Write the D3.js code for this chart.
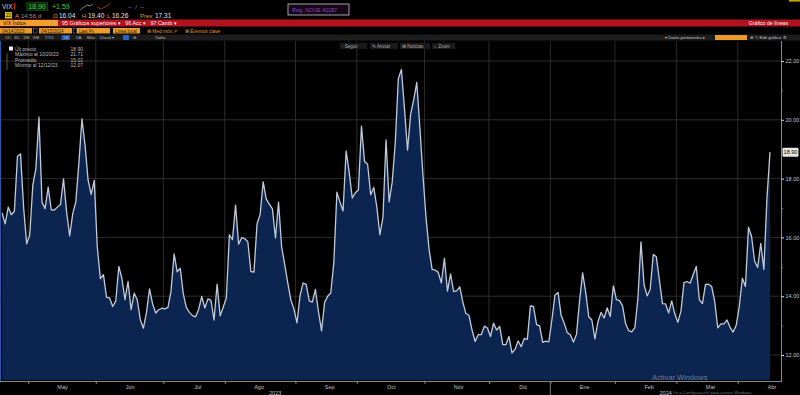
<!DOCTYPE html>
<html>
<head>
<meta charset="utf-8">
<script src="https://cdn.jsdelivr.net/npm/d3@7"></script>
<style>
  body { margin: 0; background: #000; }
  svg { display: block; font-family: "Liberation Sans", Arial, sans-serif; }
  svg text { white-space: pre; }
</style>
</head>
<body>
<div id="chart"></div>
<script>
// VIX daily closes, one array per month (trading days)
var apr23 = [16.83, 16.46, 17.03, 16.77, 16.89, 18.76, 18.84, 17.03, 15.78];
var may23 = [16.08, 17.78, 18.34, 20.09, 17.19, 16.98, 17.71, 16.94, 16.93, 17.03, 17.12, 17.99, 16.87, 16.05, 16.81, 17.21, 18.53, 20.03, 19.14, 17.95, 17.46, 17.94];
var jun23 = [15.65, 14.60, 14.73, 13.96, 13.94, 13.65, 13.83, 15.01, 14.61, 13.88, 14.50, 13.54, 14.10, 13.88, 13.20, 12.91, 13.44, 14.25, 13.74, 13.43, 13.54, 13.59];
var jul23 = [13.57, 13.62, 14.18, 15.44, 14.83, 14.95, 14.07, 13.61, 13.45, 13.34, 13.30, 13.56, 13.99, 13.60, 13.91, 13.86, 13.19, 14.41, 13.33, 13.63];
var aug23 = [13.93, 16.09, 15.92, 17.10, 15.77, 15.99, 15.96, 15.85, 14.84, 14.82, 16.46, 16.78, 17.89, 17.30, 17.13, 16.97, 15.98, 17.20, 15.68, 15.08, 14.45, 13.88, 13.57];
var sep23 = [13.09, 14.02, 14.45, 14.40, 13.84, 13.80, 14.23, 13.48, 12.82, 13.79, 14.00, 14.11, 15.14, 17.54, 17.20, 16.90, 18.94, 18.22, 17.34, 17.52];
var oct23 = [17.61, 19.78, 18.58, 18.49, 17.45, 17.70, 17.03, 16.09, 16.69, 19.32, 17.21, 17.88, 19.22, 21.40, 21.71, 20.37, 18.97, 20.19, 20.68, 21.27, 19.75, 18.14];
var nov23 = [16.70, 15.60, 14.91, 14.89, 14.81, 14.45, 15.29, 14.17, 14.76, 14.16, 14.18, 14.32, 13.80, 13.41, 13.35, 12.85, 12.46, 12.69, 12.69, 12.98, 12.92];
var dec23 = [12.63, 13.08, 12.85, 12.97, 12.35, 12.35, 12.63, 12.07, 12.19, 12.48, 12.28, 12.56, 12.53, 13.67, 13.65, 13.03, 12.99, 12.43, 12.47, 12.45];
var jan24 = [13.20, 14.04, 14.13, 13.35, 13.08, 12.76, 12.69, 12.44, 12.70, 13.84, 14.79, 14.13, 13.30, 13.19, 12.55, 13.14, 13.45, 13.26, 13.60, 13.31, 14.35];
var feb24 = [13.88, 13.85, 13.67, 13.06, 12.83, 12.79, 12.93, 13.93, 15.85, 14.38, 14.01, 14.24, 15.42, 15.34, 14.54, 13.75, 13.74, 13.43, 13.84, 13.40];
var mar24 = [13.11, 13.49, 14.46, 14.50, 14.44, 14.74, 15.01, 13.88, 13.75, 14.40, 14.41, 14.33, 13.82, 12.92, 13.06, 13.06, 13.19, 12.94, 12.78, 13.01];
var apr24 = [13.65, 14.61, 14.33, 16.35, 16.03, 15.19, 14.98, 15.80, 14.91, 17.31, 18.90];

var months     = [apr23, may23, jun23, jul23, aug23, sep23, oct23, nov23, dec23, jan24, feb24, mar24, apr24];
var monthNames = ["", "May", "Jun", "Jul", "Ago", "Sep", "Oct", "Nov", "Dic", "Ene", "Feb", "Mar", "Abr"];
var yearNames  = ["2023", "2024"];
var yearStartMonth = 9;              // Ene 2024 is months[9]
var yTicks     = [12, 14, 16, 18, 20, 22];
var yMinor     = [13, 15, 17, 19, 21];
var lastPrice  = 18.90;
var legendRows = [["Últ precio", "18.90"], ["Máximo al 10/20/23", "21.71"], ["Promedio", "15.02"], ["Mínimo al 12/12/23", "12.07"]];
var periodBtns = ["1D", "3D", "1M", "6M", "YTD", "1A", "5A", "Máx", "Diario ▾"];

var W = 800, H = 395;
var plotTop = 41, plotBottom = 381, axisX = 781;

var values = d3.merge(months);
var starts = [], n = 0;
months.forEach(function(m) { starts.push(n); n += m.length; });

var svg = d3.select("#chart").append("svg")
    .attr("width", W)
    .attr("height", H);
svg.append("rect").attr("width", W).attr("height", H).attr("fill", "#000");

var x = d3.scaleLinear().domain([0, values.length - 1]).range([2.1, 770]);
var y = d3.scaleLinear().domain([12, 22]).range([355, 61]);

// grid
var grid = svg.append("g");
grid.selectAll(".hg").data(yTicks).enter().append("line")
    .attr("x1", 0).attr("x2", axisX)
    .attr("y1", function(d) { return y(d); }).attr("y2", function(d) { return y(d); })
    .attr("stroke", "#2c2c2c").attr("stroke-width", 1);
var bounds = starts.slice(1).map(function(s) { return s - 0.5; });
grid.selectAll(".vg").data(bounds).enter().append("line")
    .attr("x1", function(d) { return x(d); }).attr("x2", function(d) { return x(d); })
    .attr("y1", plotTop).attr("y2", plotBottom)
    .attr("stroke", "#2c2c2c").attr("stroke-width", 1);

// area + line
var area = d3.area()
    .x(function(d, i) { return x(i); })
    .y0(plotBottom - 1)
    .y1(function(d) { return y(d); });
var line = d3.line()
    .x(function(d, i) { return x(i); })
    .y(function(d) { return y(d); });

svg.append("path").datum(values)
    .attr("fill", "#0b2550")
    .attr("d", area);
svg.append("path").datum(values)
    .attr("fill", "none")
    .attr("stroke", "#c2cbd8")
    .attr("stroke-width", 1.3)
    .attr("stroke-linejoin", "round")
    .attr("d", line);

// left edge
svg.append("line").attr("x1", 0.5).attr("x2", 0.5).attr("y1", plotTop).attr("y2", plotBottom)
    .attr("stroke", "#2858a8").attr("stroke-width", 1);

// right axis
svg.append("line").attr("x1", axisX + 0.5).attr("x2", axisX + 0.5).attr("y1", plotTop).attr("y2", plotBottom + 1)
    .attr("stroke", "#8a8a8a");
var ra = svg.append("g").attr("transform", "translate(" + (axisX + 0.5) + ",0)")
    .call(d3.axisRight(y).tickValues(yTicks).tickSize(2.5).tickPadding(1.5).tickFormat(d3.format(".2f")));
svg.append("g").attr("transform", "translate(" + (axisX + 0.5) + ",0)")
    .call(d3.axisRight(y).tickValues(yMinor).tickSize(1.5).tickFormat(""))
    .call(function(g) { g.select(".domain").remove(); g.selectAll("line").attr("stroke", "#777"); });
ra.select(".domain").remove();
ra.selectAll("line").attr("stroke", "#ddd");
ra.selectAll("text").attr("fill", "#c8c8c8").attr("font-size", 5.5).attr("font-family", "Liberation Sans, Arial");

// last price tag
svg.append("rect").attr("x", 782.5).attr("y", y(lastPrice) - 4.5).attr("width", 16).attr("height", 9)
    .attr("fill", "#e6e6e6").attr("rx", 1);
svg.append("text").attr("x", 790.5).attr("y", y(lastPrice) + 2)
    .attr("text-anchor", "middle").attr("font-size", 5.5).attr("fill", "#000").text(lastPrice.toFixed(2));

// bottom axis
svg.append("line").attr("x1", 0).attr("x2", axisX + 1).attr("y1", plotBottom + 0.5).attr("y2", plotBottom + 0.5)
    .attr("stroke", "#8a8a8a");
var bt = svg.append("g").attr("transform", "translate(0," + (plotBottom + 0.5) + ")")
    .call(d3.axisBottom(x).tickValues(bounds).tickSize(2.5).tickFormat(""));
bt.select(".domain").remove();
bt.selectAll("line").attr("stroke", "#8a8a8a");

var mids = starts.slice(1).map(function(s) { return s + 10.5; });
var bl = svg.append("g").attr("transform", "translate(0," + (plotBottom + 0.5) + ")")
    .call(d3.axisBottom(x).tickValues(mids).tickSize(0).tickPadding(3.5)
        .tickFormat(function(d, i) { return monthNames[i + 1]; }));
bl.select(".domain").remove();
bl.selectAll("text").attr("fill", "#c0c0c0").attr("font-size", 5.5).attr("font-family", "Liberation Sans, Arial");

var yb = x(starts[yearStartMonth] - 0.5);
svg.append("line").attr("x1", yb).attr("x2", yb).attr("y1", plotBottom).attr("y2", H)
    .attr("stroke", "#777");
svg.selectAll(".yl").data(yearNames).enter().append("text")
    .attr("x", function(d, i) { return i == 0 ? yb / 2 : (yb + axisX) / 2; })
    .attr("y", 394.5)
    .attr("text-anchor", "middle").attr("font-size", 5.5).attr("fill", "#c0c0c0")
    .text(function(d) { return d; });

// windows watermark
svg.append("text").attr("x", 652).attr("y", 379.5).attr("font-size", 7.5).attr("fill", "#8d8f9c").attr("fill-opacity", 0.8).text("Activar Windows");
svg.append("text").attr("x", 673).attr("y", 394).attr("font-size", 4.3).attr("fill", "#8d8f9c").attr("fill-opacity", 0.8).text("Ve a Configuración para activar Windows.");

// legend
var lg = svg.append("g");
lg.append("rect").attr("x", 9).attr("y", 46.5).attr("width", 4).attr("height", 4).attr("fill", "#f2f2f2");
lg.append("line").attr("x1", 7).attr("x2", 7).attr("y1", 53).attr("y2", 70).attr("stroke", "#8a6428").attr("stroke-width", 0.8);
lg.selectAll(".lt").data(legendRows).enter().append("text")
    .attr("x", 15).attr("y", function(d, i) { return 50.5 + i * 5.6; })
    .attr("font-size", 5).attr("fill", "#bdbdbd")
    .text(function(d) { return d[0]; });
lg.selectAll(".lv").data(legendRows).enter().append("text")
    .attr("x", 83).attr("y", function(d, i) { return 50.5 + i * 5.6; })
    .attr("text-anchor", "end").attr("font-size", 5).attr("fill", "#bdbdbd")
    .text(function(d) { return d[1]; });

// header rows
function txt(g, x0, y0, s, col, size, anchor) {
    return g.append("text").attr("x", x0).attr("y", y0).attr("fill", col)
        .attr("font-size", size || 6).attr("text-anchor", anchor || "start").text(s);
}
var hd = svg.append("g");
txt(hd, 2, 9, "VIX", "#d8d8d8", 6.5);
hd.append("rect").attr("x", 14).attr("y", 3).attr("width", 1.2).attr("height", 6.5).attr("fill", "#d02020");
hd.append("rect").attr("x", 26.5).attr("y", 2.5).attr("width", 21).attr("height", 8).attr("fill", "#0d260d").attr("stroke", "#1f5a1f").attr("stroke-width", 0.6);
txt(hd, 37, 9.2, "18.90", "#3fd23f", 7, "middle");
txt(hd, 52, 9.2, "+1.59", "#3fd23f", 7);
hd.append("path").attr("d", "M80,10 L84,7 L87,5 L90,6 L93,4").attr("fill", "none").attr("stroke", "#bbb").attr("stroke-width", 0.7);
hd.append("path").attr("d", "M97,7 L101,9 L105,7 L110,4").attr("fill", "none").attr("stroke", "#d03030").attr("stroke-width", 0.8);
txt(hd, 128, 8.5, "--  /  --", "#9a9a9a", 6);
hd.append("rect").attr("x", 288).attr("y", 4).attr("width", 61).attr("height", 11).attr("fill", "#140818").attr("stroke", "#c8c8c8").attr("stroke-width", 0.8);
txt(hd, 292, 11.8, "Reg: NOVE 41187", "#9b3fc8", 5.5);
hd.append("rect").attr("x", 789).attr("y", 0).attr("width", 11).attr("height", 1.6).attr("fill", "#c9a400");

hd.append("rect").attr("x", 5).attr("y", 12).attr("width", 7).attr("height", 6.5).attr("fill", "#e8c200");
txt(hd, 8.5, 17.2, "22", "#000", 5, "middle");
txt(hd, 15, 17.5, "A", "#e89b2a", 6);
txt(hd, 21, 17.5, "14:56 d", "#9a9a9a", 6);
txt(hd, 53, 17.5, "O", "#e89b2a", 6);
txt(hd, 59, 17.5, "16.04", "#e0e0e0", 6.5);
txt(hd, 82, 17.5, "H", "#e89b2a", 6);
txt(hd, 88, 17.5, "19.40", "#e0e0e0", 6.5);
txt(hd, 107, 17.5, "L", "#e89b2a", 6);
txt(hd, 112, 17.5, "16.26", "#e0e0e0", 6.5);
txt(hd, 140, 17.5, "Prev", "#e89b2a", 6);
txt(hd, 155, 17.5, "17.31", "#e0e0e0", 6.5);

hd.append("rect").attr("x", 0).attr("y", 19.5).attr("width", W).attr("height", 7).attr("fill", "#b3131f");
hd.append("rect").attr("x", 0).attr("y", 20).attr("width", 58).attr("height", 6).attr("fill", "#f0a030");
txt(hd, 3, 25, "VIX Índice", "#2a1a00", 5);
txt(hd, 62, 25, "95 Gráficos superiores ▾   96 Acc ▾   97 Camb ▾", "#f4f4f4", 5.4);
txt(hd, 788, 25, "Gráfico de líneas", "#f4f4f4", 5.2, "end");

var boxes = [[0, 32, "04/14/2023"], [39, 33, "04/15/2024"], [77, 33, "Last Px"], [113, 27, "Línea local"]];
boxes.forEach(function(b) {
    hd.append("rect").attr("x", b[0]).attr("y", 28).attr("width", b[1]).attr("height", 5.5).attr("fill", "#eb9a2c");
    txt(hd, b[0] + 2, 32.5, b[2], "#2a1a00", 4.5);
});
hd.append("rect").attr("x", 33.5).attr("y", 28.5).attr("width", 3.5).attr("height", 4.5).attr("fill", "none").attr("stroke", "#888").attr("stroke-width", 0.5);
hd.append("rect").attr("x", 73.5).attr("y", 28.5).attr("width", 3).attr("height", 4.5).attr("fill", "none").attr("stroke", "#888").attr("stroke-width", 0.5);
txt(hd, 147, 32.6, "⊞ Med móv ↗", "#e8962a", 4.8);
txt(hd, 185, 32.6, "⊞ Eventos clave", "#e8962a", 4.8);

hd.append("rect").attr("x", 0).attr("y", 34.5).attr("width", W).attr("height", 6).attr("fill", "#1c1c1c");
var btnX = [5, 14, 23, 33, 45, 63, 76, 87, 100];
hd.append("rect").attr("x", 61.5).attr("y", 35).attr("width", 8.5).attr("height", 5).attr("fill", "#1e5ab4");
hd.append("rect").attr("x", 123).attr("y", 35).attr("width", 6).attr("height", 5).attr("fill", "#2866c8").attr("rx", 1);
periodBtns.forEach(function(b, i) { txt(hd, btnX[i], 39.3, b, "#b8b8b8", 4.3); });
txt(hd, 133, 39.3, "⊞", "#b8b8b8", 4.3);
txt(hd, 155, 39.3, "Tabla", "#b8b8b8", 4.3);
txt(hd, 665, 39.3, "▾ Datos pertinentes ▸", "#c8c8c8", 4.3);
hd.append("rect").attr("x", 715).attr("y", 35).attr("width", 32).attr("height", 5).attr("fill", "#eb9a2c");
txt(hd, 750, 39.3, "⊞  ✎ Edit gráfico  ⚙", "#c8c8c8", 4.3);

var btns = [[340, 27, "◦ Seguir"], [370, 28, "✎ Anotar"], [400, 30, "⊞ Noticias"], [432, 23, "⌕ Zoom"]];
btns.forEach(function(b) {
    hd.append("rect").attr("x", b[0]).attr("y", 43).attr("width", b[1]).attr("height", 6).attr("fill", "#1a1a1a");
    txt(hd, b[0] + 2, 47.8, b[2], "#a8a8a8", 4.5);
});
</script>
</body>
</html>
